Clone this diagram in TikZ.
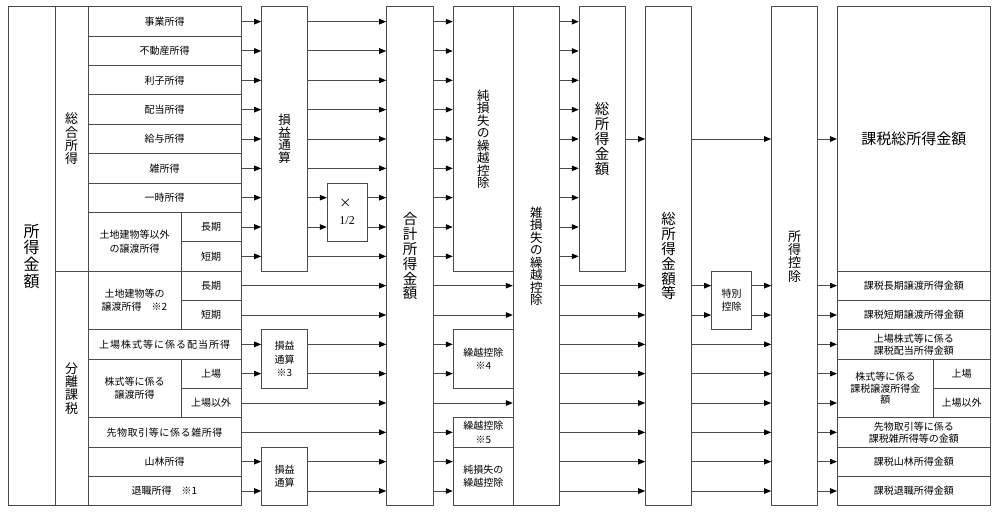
\documentclass[tikz,border=0pt]{standalone}
\usepackage{fontspec}
\setmainfont{Noto Sans CJK JP}
\newfontfamily\seriffont{Liberation Serif}
\usetikzlibrary{arrows.meta}
\definecolor{ln}{RGB}{75,75,75}
\tikzset{
  cell/.style={draw=ln, line width=1pt, inner sep=0pt, align=center, text=black,
    font=\fontsize{10}{12.5}\selectfont},
  vt12/.style={font=\fontsize{12.5}{12.5}\selectfont},
  vt13/.style={font=\fontsize{13}{13.3}\selectfont},
  vt15/.style={font=\fontsize{14.5}{14.8}\selectfont},
  sm12/.style={font=\fontsize{10}{11.8}\selectfont},
  sm13/.style={font=\fontsize{10}{13.3}\selectfont},
  arr/.style={draw=ln, line width=1pt, -{Triangle[length=7pt,width=5.5pt,color=black]}},
}
\newcommand\bx[7][]{\node[cell,#1,minimum width={#5pt-#3pt},minimum height={#6pt-#4pt}] (#2) at ({(#3+#5)/2},{(#4+#6)/2}) {#7};}
\begin{document}
\begin{tikzpicture}[x=1pt,y=-1pt]
\useasboundingbox (0,0) rectangle (1000,516);
% left table
\bx[font=\fontsize{16}{16.7}\selectfont]{La}{8}{7}{55}{505.7}{所\\得\\金\\額}
\bx[vt13]{Lb}{55}{7}{88}{271}{総\\合\\所\\得}
\bx[vt13]{Lc}{55}{271}{88}{505.7}{分\\離\\課\\税}
\bx{L0}{88}{7}{241}{36.3}{事業所得}
\bx{L1}{88}{36.3}{241}{65.7}{不動産所得}
\bx{L2}{88}{65.7}{241}{95}{利子所得}
\bx{L3}{88}{95}{241}{124.3}{配当所得}
\bx{L4}{88}{124.3}{241}{153.7}{給与所得}
\bx{L5}{88}{153.7}{241}{183}{雑所得}
\bx{L6}{88}{183}{241}{212.3}{一時所得}
\bx[sm13]{Ld}{88}{212.3}{181}{271}{土地建物等以外\\の譲渡所得}
\bx{L7}{181}{212.3}{241}{241.7}{長期}
\bx{L8}{181}{241.7}{241}{271}{短期}
\bx[sm13]{Le}{88}{271}{181}{329.7}{土地建物等の\\譲渡所得　※2}
\bx{L9}{181}{271}{241}{300.3}{長期}
\bx{L10}{181}{300.3}{241}{329.7}{短期}
\bx[font=\fontsize{10}{12.5}\selectfont\addfontfeature{LetterSpace=10}]{L11}{88}{329.7}{241}{359}{上場株式等に係る配当所得}
\bx[sm13]{Lf}{88}{359}{181}{417.7}{株式等に係る\\譲渡所得}
\bx{L12}{181}{359}{241}{388.3}{上場}
\bx{L13}{181}{388.3}{241}{417.7}{上場以外}
\bx[font=\fontsize{10}{12.5}\selectfont\addfontfeature{LetterSpace=6}]{L14}{88}{417.7}{241}{447}{先物取引等に係る雑所得}
\bx{L15}{88}{447}{241}{476.3}{山林所得}
\bx{L16}{88}{476.3}{241}{505.7}{退職所得　※1}
% middle boxes
\bx[vt12]{S1}{261.7}{7}{307.3}{271}{損\\益\\通\\算}
\bx[font=\fontsize{12}{17}\selectfont, align=left]{H}{327.3}{183}{367}{241.7}{×\\{\seriffont 1/2}}
\bx[sm13]{S2}{261.7}{329.7}{307.3}{388.3}{損益\\通算\\※3}
\bx[sm13]{S3}{261.7}{447}{307.3}{505.7}{損益\\通算}
\bx[vt15]{G}{386.7}{7}{433.3}{505.7}{合\\計\\所\\得\\金\\額}
\bx[vt12]{N1}{453.3}{7}{513.3}{271}{純\\損\\失\\の\\繰\\越\\控\\除}
\bx[sm13]{K4}{453.3}{329.7}{513.3}{388.3}{繰越控除\\※4}
\bx[sm13]{K5}{453.3}{417.7}{513.3}{447}{繰越控除\\※5}
\bx[sm13]{N2}{453.3}{447}{513.3}{505.7}{純損失の\\繰越控除}
\bx[vt12]{Z}{513.3}{7}{559.3}{505.7}{雑\\損\\失\\の\\繰\\越\\控\\除}
\bx[vt15]{T}{579.3}{7}{625}{271}{総\\所\\得\\金\\額}
\bx[vt15]{TT}{645.7}{7}{691.7}{505.7}{総\\所\\得\\金\\額\\等}
\bx[sm13]{SP}{711.7}{271}{751.7}{329.7}{特別\\控除}
\bx[vt13]{D}{771.7}{7}{817.7}{505.7}{所\\得\\控\\除}
% right table
\bx[font=\fontsize{15}{18}\selectfont]{F0}{837.5}{7}{990}{271}{課税総所得金額}
\bx{F9}{837.5}{271}{990}{300.3}{課税長期譲渡所得金額}
\bx{F10}{837.5}{300.3}{990}{329.7}{課税短期譲渡所得金額}
\bx[sm12]{F11}{837.5}{329.7}{990}{359}{上場株式等に係る\\課税配当所得金額}
\bx[sm12]{Fs}{837.5}{359}{933.3}{417.7}{株式等に係る\\課税譲渡所得金\\額}
\bx{F12}{933.3}{359}{990}{388.3}{上場}
\bx{F13}{933.3}{388.3}{990}{417.7}{上場以外}
\bx[sm12]{F14}{837.5}{417.7}{990}{447}{先物取引等に係る\\課税雑所得等の金額}
\bx{F15}{837.5}{447}{990}{476.3}{課税山林所得金額}
\bx{F16}{837.5}{476.3}{990}{505.7}{課税退職所得金額}
% stage 1
\foreach \i in {0,...,8} \draw[arr] (L\i.east) -- (L\i -| S1.west);
\foreach \i in {11,12} \draw[arr] (L\i.east) -- (L\i -| S2.west);
\foreach \i in {15,16} \draw[arr] (L\i.east) -- (L\i -| S3.west);
\foreach \i in {9,10,13,14} \draw[arr] (L\i.east) -- (L\i -| G.west);
% stage 2
\foreach \i in {0,...,5,8} \draw[arr] (L\i -| S1.east) -- (L\i -| G.west);
\foreach \i in {6,7} {\draw[arr] (L\i -| S1.east) -- (L\i -| H.west);
  \draw[arr] (L\i -| H.east) -- (L\i -| G.west);}
\foreach \i in {11,12} \draw[arr] (L\i -| S2.east) -- (L\i -| G.west);
\foreach \i in {15,16} \draw[arr] (L\i -| S3.east) -- (L\i -| G.west);
% stage 3
\foreach \i in {0,...,8} \draw[arr] (L\i -| G.east) -- (L\i -| N1.west);
\foreach \i in {9,10,13} \draw[arr] (L\i -| G.east) -- (L\i -| Z.west);
\foreach \i in {11,12} \draw[arr] (L\i -| G.east) -- (L\i -| K4.west);
\draw[arr] (L14 -| G.east) -- (L14 -| K5.west);
\foreach \i in {15,16} \draw[arr] (L\i -| G.east) -- (L\i -| N2.west);
% stage 4
\foreach \i in {0,...,8} \draw[arr] (L\i -| Z.east) -- (L\i -| T.west);
\foreach \i in {9,...,16} \draw[arr] (L\i -| Z.east) -- (L\i -| TT.west);
% stage 5-7
\draw[arr] (T.east) -- (T.east -| TT.west);
\draw[arr] (T -| TT.east) -- (T -| D.west);
\foreach \i in {9,10} {\draw[arr] (L\i -| TT.east) -- (L\i -| SP.west);
  \draw[arr] (L\i -| SP.east) -- (L\i -| D.west);}
\foreach \i in {11,...,16} \draw[arr] (L\i -| TT.east) -- (L\i -| D.west);
\draw[arr] (T -| D.east) -- (F0.west);
\foreach \i in {9,...,16} \draw[arr] (L\i -| D.east) -- (L\i -| F0.west);
\end{tikzpicture}
\end{document}
